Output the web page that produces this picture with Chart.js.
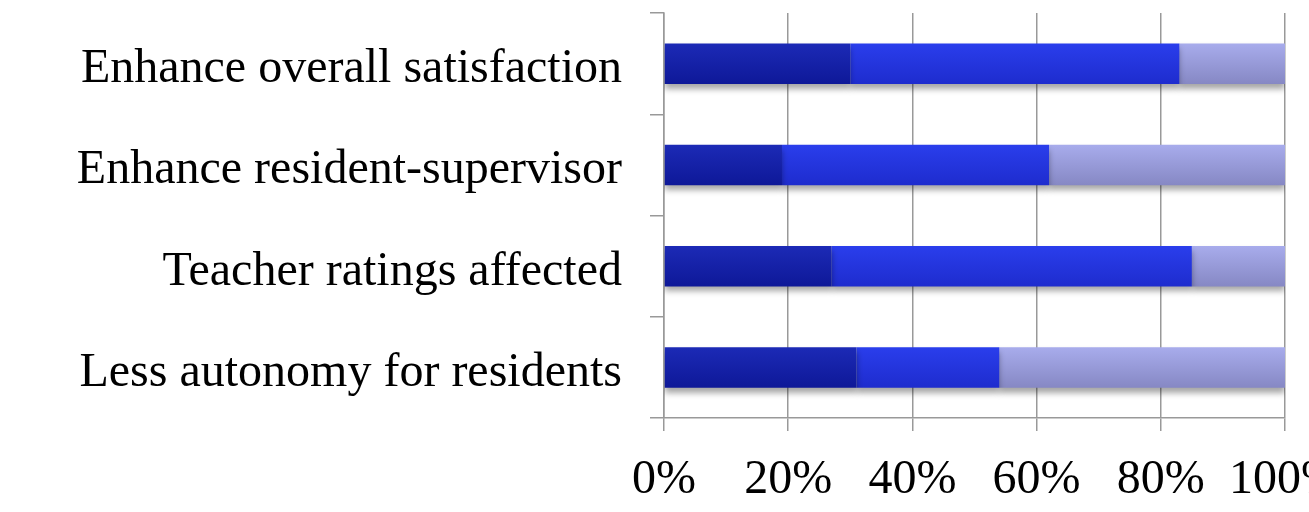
<!DOCTYPE html>
<html>
<head>
<meta charset="utf-8">
<script src="https://cdn.jsdelivr.net/npm/chart.js@4/dist/chart.umd.min.js"></script>
<style>
  html, body { margin: 0; padding: 0; background: #fff; overflow: hidden; }
  #wrap { position: relative; width: 1309px; height: 512px; }
</style>
</head>
<body>
<div id="wrap"><canvas id="c"></canvas></div>
<script>
// Survey statements, top to bottom
const categories = [
  'Enhance overall satisfaction',
  'Enhance resident-supervisor',
  'Teacher ratings affected',
  'Less autonomy for residents'
];
// Share of responses per statement (percent), stacked left to right
const agreeValues   = [30, 19, 27, 31];
const neutralValues = [53, 43, 58, 23];
const disagreeValues = [17, 38, 15, 46];
const tickLabels = ['0%', '20%', '40%', '60%', '80%', '100%'];

const BAR_PCT = 0.5, CAT_PCT = 0.8;

// Vertical gradient spanning one bar, built from the category scale position
function barGradient(top, bottom) {
  return function (ctx) {
    const chart = ctx.chart;
    const y = chart.scales.y;
    if (!y || ctx.dataIndex === undefined) return top;
    const center = y.getPixelForValue(ctx.dataIndex);
    const band = (y.bottom - y.top) / categories.length;
    const half = band * CAT_PCT * BAR_PCT / 2;
    if (!isFinite(center) || !isFinite(half) || half <= 0) return top;
    const g = chart.ctx.createLinearGradient(0, center - half, 0, center + half);
    g.addColorStop(0, top);
    g.addColorStop(1, bottom);
    return g;
  };
}

// Soft drop shadow under the bars
const barShadow = {
  id: 'barShadow',
  beforeDatasetsDraw(chart) {
    const c = chart.ctx;
    c.save();
    c.shadowColor = 'rgba(0,0,0,0.35)';
    c.shadowBlur = 6;
    c.shadowOffsetY = 5;
  },
  afterDatasetsDraw(chart) {
    chart.ctx.restore();
  }
};

// Fixed axis sizes; the last x label is allowed to run off the right edge
function noEdgePadding(scale) {
  scale.paddingTop = 0;
  scale.paddingBottom = 0;
  scale.paddingLeft = 0;
  scale.paddingRight = 0;
}

const font = { family: '"Liberation Serif", "Times New Roman", serif', size: 48 };

new Chart(document.getElementById('c'), {
  type: 'bar',
  data: {
    labels: categories,
    datasets: [
      { data: agreeValues, backgroundColor: barGradient('rgb(28,42,182)', 'rgb(14,24,152)') },
      { data: neutralValues, backgroundColor: barGradient('rgb(42,62,236)', 'rgb(30,44,206)') },
      { data: disagreeValues, backgroundColor: barGradient('rgb(168,172,236)', 'rgb(134,136,196)') }
    ]
  },
  plugins: [barShadow],
  options: {
    indexAxis: 'y',
    responsive: true,
    maintainAspectRatio: false,
    animation: false,
    barPercentage: BAR_PCT,
    categoryPercentage: CAT_PCT,
    layout: { padding: { top: 13, left: 0, bottom: 0, right: 24 } },
    plugins: { legend: { display: false }, tooltip: { enabled: false } },
    scales: {
      x: {
        stacked: true,
        min: 0,
        max: 100,
        afterFit(scale) { noEdgePadding(scale); scale.height = 94; },
        ticks: {
          stepSize: 20,
          color: '#000',
          font: font,
          padding: 21,
          maxRotation: 0,
          callback: (v, i) => tickLabels[i]
        },
        grid: { color: '#999999', lineWidth: 1.5, tickLength: 13 },
        border: { color: '#999999', width: 1.5 }
      },
      y: {
        stacked: true,
        offset: true,
        afterFit(scale) { noEdgePadding(scale); scale.width = 664; },
        ticks: { color: '#000', font: font, padding: 28, labelOffset: 6 },
        grid: { offset: true, drawOnChartArea: false, color: '#999999', lineWidth: 1.5, tickLength: 14 },
        border: { color: '#999999', width: 1.5 }
      }
    }
  }
});
</script>
</body>
</html>
